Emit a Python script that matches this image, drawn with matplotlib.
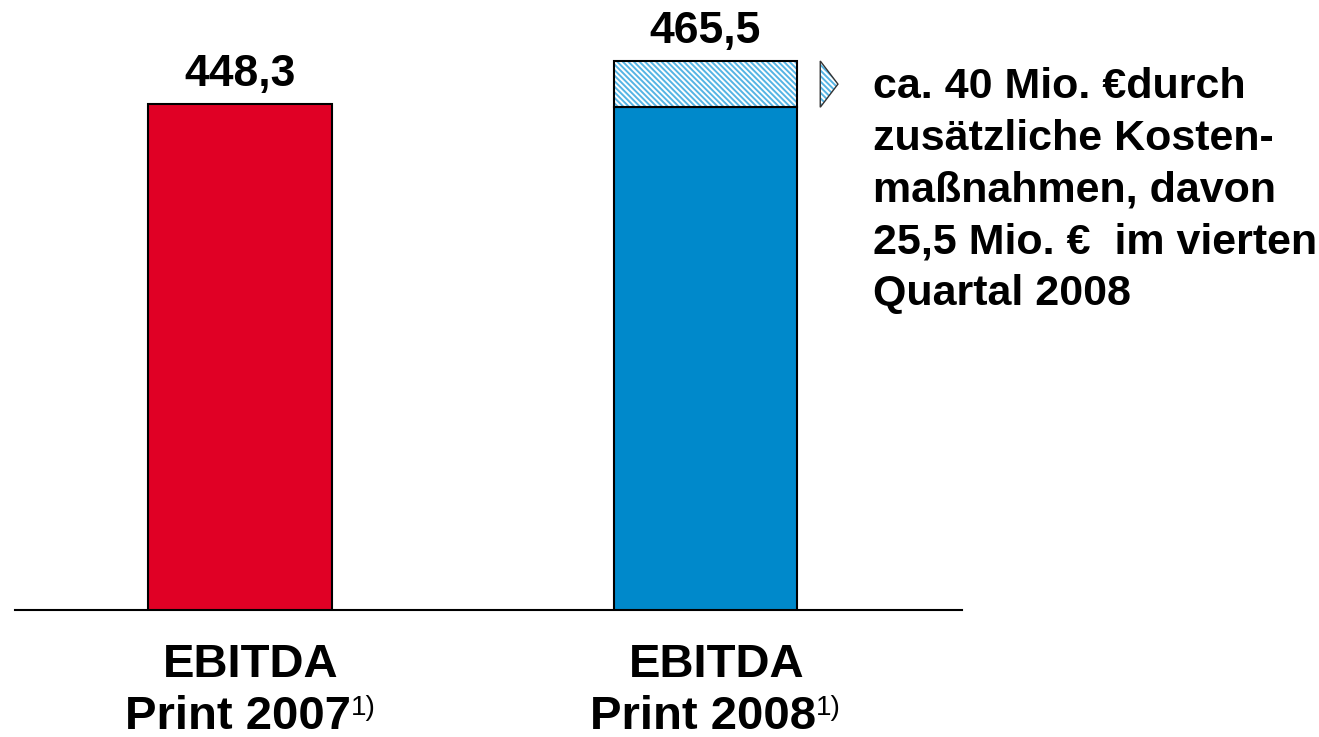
import matplotlib
matplotlib.use("Agg")
import matplotlib.pyplot as plt
from matplotlib.patches import Polygon

plt.rcParams['font.family'] = ['Liberation Sans', 'DejaVu Sans']
plt.rcParams['hatch.linewidth'] = 1.4

# data
years = ['2007', '2008']
ebitda = [448.3, 465.5]
value_labels = ['448,3', '465,5']
base_2008 = 447.0              # blue part of the 2008 bar
savings = ebitda[1] - base_2008  # hatched part (cost measures)
bar_colors = ['#E00025', '#0089CB']
note = ("ca. 40 Mio. \u20acdurch\nzusätzliche Kosten-\nmaßnahmen, davon\n"
        "25,5 Mio. \u20ac  im vierten\nQuartal 2008")

W, H = 1319, 737
fig = plt.figure(figsize=(W / 100, H / 100), dpi=100)
ax = fig.add_axes([15 / W, (H - 610) / H, 947 / W, 610 / H])

x = [0, 1]
bar_w = 0.395
hatch_col = '#55B4E4'
ax.bar(x[0], ebitda[0], width=bar_w, color=bar_colors[0], edgecolor='black', linewidth=1.5)
ax.bar(x[1], base_2008, width=bar_w, color=bar_colors[1], edgecolor='black', linewidth=1.5)
# hatched part: draw hatch first, outline on top
ax.bar(x[1], savings, bottom=base_2008, width=bar_w, color='white',
       edgecolor=hatch_col, hatch='\\\\\\\\\\\\', linewidth=0)
ax.bar(x[1], savings, bottom=base_2008, width=bar_w, color='none',
       edgecolor='black', linewidth=1.5)

# little arrow next to the hatched part
x0 = x[1] + bar_w / 2 + 0.049
x1 = x0 + 0.038
tri_pts = [(x0, ebitda[1]), (x1, base_2008 + savings / 2), (x0, base_2008)]
ax.add_patch(Polygon(tri_pts, closed=True, facecolor='white', edgecolor=hatch_col,
                     hatch='\\\\\\\\\\\\', linewidth=0))
ax.add_patch(Polygon(tri_pts, closed=True, facecolor='none', edgecolor='#333333', linewidth=1.0))

for xi, v, lab in zip(x, ebitda, value_labels):
    ax.annotate(lab, (xi, v), xytext=(0, 13), textcoords='offset points',
                ha='center', va='baseline', fontsize=32, fontweight='bold')

ax.set_xlim(-0.4834, 1.551)
ax.set_ylim(245.9, 489.9)
for s in ['top', 'left', 'right']:
    ax.spines[s].set_visible(False)
ax.spines['bottom'].set_linewidth(1.5)
ax.set_xticks([])
ax.set_yticks([])

# category labels below the axis
trans = matplotlib.transforms.blended_transform_factory(ax.transData, fig.transFigure)
off1 = matplotlib.transforms.ScaledTranslation(11 / 100, 0, fig.dpi_scale_trans)
off2 = matplotlib.transforms.ScaledTranslation(-2.5 / 100, 0, fig.dpi_scale_trans)
for xi, yr in zip(x, years):
    ax.text(xi, 1 - 677 / H, 'EBITDA', transform=trans + off1, ha='center', va='baseline',
            fontsize=34, fontweight='bold')
    t = ax.text(xi, 1 - 729 / H, f'Print {yr}', transform=trans + off2, ha='center', va='baseline',
                fontsize=34, fontweight='bold')
    ax.annotate('1)', xy=(1, 0.42), xycoords=t, xytext=(0, 0), textcoords='offset points',
                ha='left', va='bottom', fontsize=20)

fig.text(873 / W, 1 - 67 / H, note, ha='left', va='top', fontsize=31,
         fontweight='bold', linespacing=1.38)

fig.savefig('out.png', dpi=100)
